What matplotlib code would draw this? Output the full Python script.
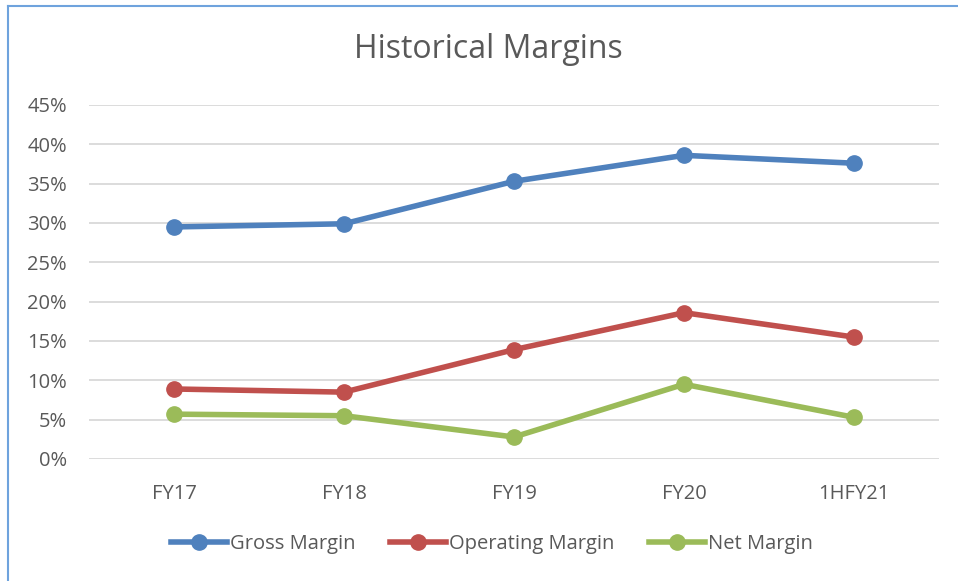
import numpy as np
import matplotlib.pyplot as plt
from matplotlib.lines import Line2D
from matplotlib.ticker import FuncFormatter

plt.rcParams['font.family'] = ['Open Sans', 'DejaVu Sans']

# data
periods = ['FY17', 'FY18', 'FY19', 'FY20', '1HFY21']
gross = [29.5, 29.9, 35.3, 38.6, 37.6]
operating = [8.9, 8.5, 13.9, 18.6, 15.5]
net = [5.7, 5.5, 2.8, 9.5, 5.3]

txt = '#595959'

fig = plt.figure(figsize=(9.58, 5.81), dpi=100)
ax = fig.add_axes([89/958, 1 - 459/581, 850/958, 354/581])

x = np.arange(len(periods)) + 0.5
ax.plot(x, gross, color='#4F81BD', lw=4, marker='o', ms=11, label='Gross Margin')
ax.plot(x, operating, color='#C0504D', lw=4, marker='o', ms=11, label='Operating Margin')
ax.plot(x, net, color='#9BBB59', lw=4, marker='o', ms=11, label='Net Margin')

ax.set_xlim(0, 5)
ax.set_ylim(0, 45)
ax.set_yticks(np.arange(0, 46, 5))
ax.yaxis.set_major_formatter(FuncFormatter(lambda v, p: '{:.0f}%'.format(v)))
ax.set_xticks(x)
ax.set_xticklabels(periods)
ax.grid(axis='y', color='#D9D9D9', lw=1.3)
ax.set_axisbelow(True)
for s in ax.spines.values():
    s.set_visible(False)
ax.tick_params(length=0, labelsize=14.5, labelcolor=txt)
ax.tick_params(axis='y', pad=16)
ax.tick_params(axis='x', pad=18)

fig.text(488/958, 1 - 50/581, 'Historical Margins', ha='center', va='center',
         fontsize=23, color=txt)

leg = fig.legend(loc='center', bbox_to_anchor=(492/958, 1 - 544/581), ncol=3,
                 frameon=False, fontsize=14.5, handlelength=2.8, handletextpad=0.15,
                 columnspacing=1.7, labelcolor=txt)

# outer border (only top and left visible)
fig.add_artist(Line2D([8/958, 8/958], [0, 1 - 6/581], color='#6FA3DD', lw=1.5,
                      transform=fig.transFigure))
fig.add_artist(Line2D([8/958, 1], [1 - 6/581, 1 - 6/581], color='#6FA3DD', lw=1.5,
                      transform=fig.transFigure))

fig.savefig('out.png', dpi=100)
